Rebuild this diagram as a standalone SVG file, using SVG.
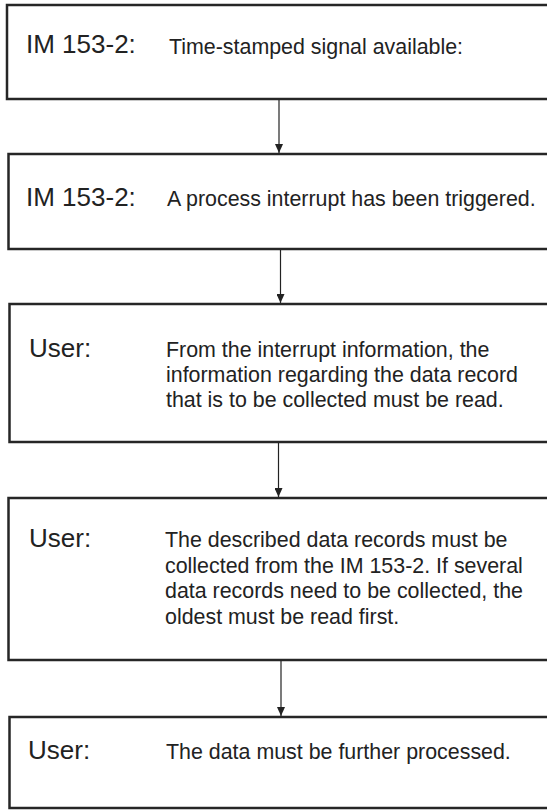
<svg xmlns="http://www.w3.org/2000/svg" width="547" height="810" viewBox="0 0 547 810">
<style>
.box{fill:#fff;stroke:#262626;stroke-width:2.5}
.lbl{font-family:"Liberation Sans",Arial,sans-serif;font-size:26px;fill:#222}
.txt{font-family:"Liberation Sans",Arial,sans-serif;font-size:21.4px;fill:#222}
.con{stroke:#222;stroke-width:1.2;fill:none}
</style>
<defs>
<marker id="ah" viewBox="0 0 9 8" refX="9" refY="4" markerWidth="9" markerHeight="8" markerUnits="userSpaceOnUse" orient="auto">
<path d="M0,0 L9,4 L0,8 Z" fill="#222"/>
</marker>
</defs>
<rect width="547" height="810" fill="#fff"/>
<g id="connectors">
<line class="con" x1="279" y1="100" x2="279" y2="153" marker-end="url(#ah)"/>
<line class="con" x1="280.5" y1="250" x2="280.5" y2="303" marker-end="url(#ah)"/>
<line class="con" x1="278.5" y1="443" x2="278.5" y2="497" marker-end="url(#ah)"/>
<line class="con" x1="281" y1="661" x2="281" y2="716" marker-end="url(#ah)"/>
</g>
<g id="n1">
<rect class="box" x="7" y="5" width="560" height="94"/>
<text class="lbl" x="26" y="53">IM 153-2:</text>
<text class="txt" x="169" y="54">Time-stamped signal available:</text>
</g>
<g id="n2">
<rect class="box" x="8.5" y="154" width="560" height="95"/>
<text class="lbl" x="26" y="206">IM 153-2:</text>
<text class="txt" x="167" y="206">A process interrupt has been triggered.</text>
</g>
<g id="n3">
<rect class="box" x="9.5" y="304" width="560" height="138"/>
<text class="lbl" x="29" y="357">User:</text>
<text class="txt" x="166" y="357">From the interrupt information, the</text>
<text class="txt" x="166" y="382">information regarding the data record</text>
<text class="txt" x="166" y="407">that is to be collected must be read.</text>
</g>
<g id="n4">
<rect class="box" x="8.5" y="498" width="560" height="162"/>
<text class="lbl" x="29" y="547">User:</text>
<text class="txt" x="165" y="547">The described data records must be</text>
<text class="txt" x="165" y="573">collected from the IM 153-2. If several</text>
<text class="txt" x="165" y="598">data records need to be collected, the</text>
<text class="txt" x="165" y="624">oldest must be read first.</text>
</g>
<g id="n5">
<rect class="box" x="9.5" y="717" width="560" height="91"/>
<text class="lbl" x="28" y="759">User:</text>
<text class="txt" x="166" y="759">The data must be further processed.</text>
</g>
</svg>
